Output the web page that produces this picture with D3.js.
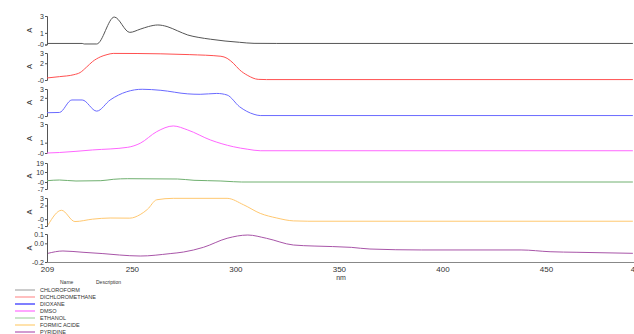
<!DOCTYPE html>
<html><head><meta charset="utf-8">
<script src="https://cdn.jsdelivr.net/npm/d3@7"></script>
<style>body{margin:0;background:#fff}svg{display:block;font-family:"Liberation Sans",Arial,sans-serif}</style>
</head><body><svg id="c" width="634" height="334"></svg>
<script>
const names = ["CHLOROFORM","DICHLOROMETHANE","DIOXANE","DMSO","ETHANOL","FORMIC ACIDE","PYRIDINE"];
const lineColors = ["#555555","#ff5050","#6a6aff","#ff66ff","#70b070","#ffc870","#a855a8"];
const legendColors = ["#bbbbbb","#ffaaaa","#5555ff","#ff88ff","#b8dcb8","#ffd890","#c27ac2"];

const chloroform = [[209,0],[226,0],[227,-0.05],[233,-0.05],[241.5,2.5],[249,1.05],[254,1.35],[258,1.6],[262.5,1.75],[267,1.6],[272,1.2],[277,0.8],[282,0.58],[288,0.4],[295,0.23],[302,0.11],[309,0.01],[320,0],[492,0]];
const dichloromethane = [[209,0.2],[215,0.36],[222,0.6],[225,0.86],[228,1.5],[231,2.2],[235,2.8],[238,3.05],[241,3.2],[264,3.15],[278,3.05],[293,2.85],[296,2.6],[299,2.0],[302,1.2],[306,0.5],[311,0.03],[315,0],[492,0]];
const dioxane = [[209,0.32],[215,0.35],[221,1.76],[226,1.76],[233,0.5],[239.5,1.76],[247.5,2.69],[255,2.97],[264,2.85],[277,2.45],[283,2.40],[291,2.5],[296,2.32],[302,1.0],[309,0.14],[312,0],[492,0]];
const dmso = [[209,-0.05],[215,0],[231,0.26],[248,0.53],[254,0.94],[262,2.12],[270,2.7],[277,2.29],[288,1.27],[299,0.59],[306,0.33],[312,0.18],[492,0.18]];
const ethanol = [[209,1.3],[215,2.0],[223,1.0],[235,1.3],[241,2.7],[248,3.3],[272,3.0],[280,1.7],[293,1.0],[299,0.3],[303,0],[492,0]];
const formicAcide = [[209.5,-0.85],[216,1.3],[222.5,-0.35],[231,0.0],[239.5,0.17],[249,0.15],[254,0.67],[257.5,1.43],[262,2.84],[270,3.05],[296,3.05],[304,2.1],[312,0.85],[320,0.17],[328,-0.25],[335,-0.3],[492,-0.3]];
const pyridine = [[209.5,-0.107],[216.7,-0.082],[226.4,-0.096],[236,-0.11],[244,-0.125],[254,-0.136],[268.5,-0.11],[275,-0.093],[284.5,-0.043],[296,0.054],[306,0.089],[315,0.054],[328,-0.018],[338,-0.029],[356,-0.043],[365,-0.061],[390,-0.071],[438,-0.071],[452,-0.09],[465,-0.096],[492,-0.107]];
const seriesData = [chloroform,dichloromethane,dioxane,dmso,ethanol,formicAcide,pyridine];

const yDomains = [[-0.1,2.6],[-0.05,3.25],[-0.05,3.0],[-0.05,2.9],[-7,19],[-1,3.1],[-0.2,0.1]];
const yTickValues = [[2.6,1,-0.1],[3.25,2,-0.05],[3.0,2,-0.05],[2.9,1,-0.05],[19,10,0,-7],[3.1,2,0,-1],[0.1,0,-0.2]];
const yTickLabels = [["3","1","-0"],["3","2","-0"],["3","2","-0"],["3","1","-0"],["19","10","-0","-7"],["3","2","-0","-1"],["0.1","0.0","-0.2"]];
const xDomain = [209,494];
const xTickValues = [209,250,300,350,400,450,494];
const xTickLabels = ["209","250","300","350","400","450","494"];

const panelTop = [16,53,89,124,163,198,234];
const panelBottom = [44.5,80,116,153,189,226,262];
const left = 47, right = 637;

const svg = d3.select("#c");
const x = d3.scaleLinear().domain(xDomain).range([left,right]);

seriesData.forEach((data,i)=>{
  const y = d3.scaleLinear().domain(yDomains[i]).range([panelBottom[i],panelTop[i]]);
  const g = svg.append("g");
  const ax = g.append("g").attr("transform",`translate(${left},0)`)
    .call(d3.axisLeft(y).tickValues(yTickValues[i]).tickSize(2).tickPadding(1)
      .tickFormat((d,k)=>yTickLabels[i][k]));
  ax.select(".domain").attr("stroke","#555");
  ax.selectAll(".tick line").attr("stroke","#555");
  ax.selectAll("text").attr("font-size",7).attr("fill","#333");
  g.append("text").attr("transform",`translate(32,${(panelTop[i]+panelBottom[i])/2}) rotate(-90)`)
    .attr("text-anchor","middle").attr("font-size",7.5).attr("fill","#333").text("A");
  g.append("path").datum(data)
    .attr("fill","none").attr("stroke",lineColors[i]).attr("stroke-width",1)
    .attr("d",d3.line().x(d=>x(d[0])).y(d=>y(d[1])).curve(d3.curveMonotoneX));
});

const xa = svg.append("g").attr("transform",`translate(0,${panelBottom[6]})`)
  .call(d3.axisBottom(x).tickValues(xTickValues).tickSize(0).tickPadding(4)
    .tickFormat((d,k)=>xTickLabels[k]));
xa.select(".domain").attr("stroke","#888").attr("stroke-width",1.2);
xa.selectAll("text").attr("font-size",8).attr("fill","#333");
svg.append("text").attr("x",341).attr("y",280).attr("text-anchor","middle")
  .attr("font-size",7).attr("fill","#333").text("nm");

const lg = svg.append("g");
lg.append("text").attr("x",60).attr("y",284).attr("font-size",5).attr("fill","#333").text("Name");
lg.append("text").attr("x",96).attr("y",284).attr("font-size",5).attr("fill","#333").text("Description");
names.forEach((n,i)=>{
  const yy = 290 + i*7;
  lg.append("line").attr("x1",15).attr("x2",35).attr("y1",yy).attr("y2",yy)
    .attr("stroke",legendColors[i]).attr("stroke-width",1.5);
  lg.append("text").attr("x",40).attr("y",yy+2).attr("font-size",5.5).attr("fill","#333").text(n);
});
</script></body></html>
